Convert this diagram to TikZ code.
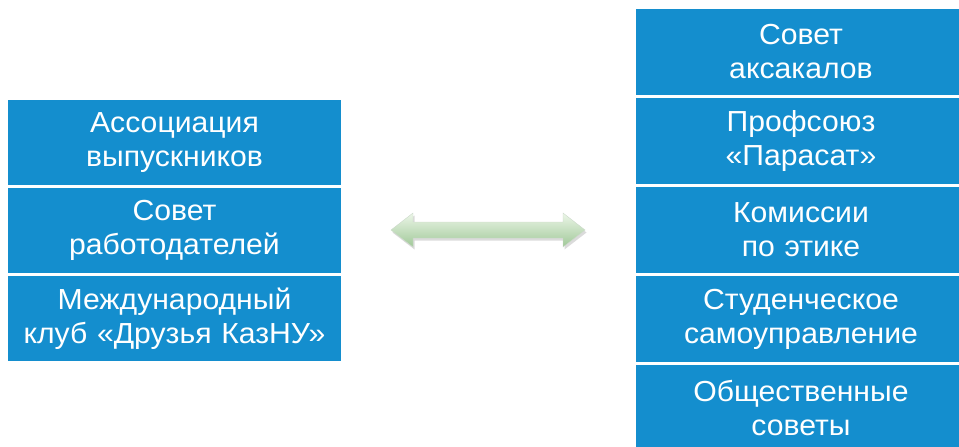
\documentclass[tikz,border=0pt]{standalone}
\usepackage{fontspec}
\setmainfont{Liberation Sans}[FakeStretch=1.04]
\usetikzlibrary{positioning}

\definecolor{boxblue}{RGB}{20,142,206}
\definecolor{arrowlight}{RGB}{236,246,232}
\definecolor{arrowmid}{RGB}{192,224,184}
\definecolor{arrowdark}{RGB}{160,200,152}

\begin{document}
\begin{tikzpicture}[
            x = 1pt, y = -1pt, % pixel grid of the reference
            node distance = 3pt, % white gap between boxes
            semithick % line style
        ]

        \tikzstyle{box}=[
            fill = boxblue,
            text = white,
            inner sep = 0pt,
            outer sep = 0pt,
            align = center,
            font = \fontsize{29}{34}\selectfont
        ]
        \tikzstyle{leftbox}=[box, minimum width = 333pt, minimum height = 85pt, text width = 325pt]
        \tikzstyle{rightbox}=[box, minimum width = 330pt, minimum height = 86pt, text width = 320pt]

	\useasboundingbox (0,0) rectangle (959,447);
	\clip (0,0) rectangle (959,447);

	% left column
	\node[leftbox] (assoc) at (174.5,142.5) {Ассоциация\\выпускников};
	\node[leftbox] (employers) [below=of assoc] {Совет\\работодателей};
	\node[leftbox] (club) [below=of employers] {Международный\\клуб «Друзья КазНУ»};

	% right column
	\node[rightbox] (elders) at (801,52) {Совет\\аксакалов};
	\node[rightbox] (union) [below=of elders] {Профсоюз\\«Парасат»};
	\node[rightbox] (ethics) [below=of union] {Комиссии\\по этике};
	\node[rightbox] (students) [below=of ethics] {Студенческое\\самоуправление};
	\node[rightbox] (public) [below=of students] {Общественные\\советы};

	% double arrow between the columns
	\coordinate (lefttip) at (391,230);
	\coordinate (righttip) at (585,230);
	\path[top color = arrowlight, middle color = arrowmid, bottom color = arrowdark,
	      draw = arrowdark!80!black!40, thin,
	      preaction = {fill = black!14, transform canvas = {shift = {(1.5pt,-2.5pt)}}}]
	    (lefttip) -- ++(22,-17) -- ++(0,9) -- ++(150,0) -- ++(0,-9)
	    -- (righttip) -- ++(-22,17) -- ++(0,-9) -- ++(-150,0) -- ++(0,9) -- cycle;

    \end{tikzpicture}
\end{document}
